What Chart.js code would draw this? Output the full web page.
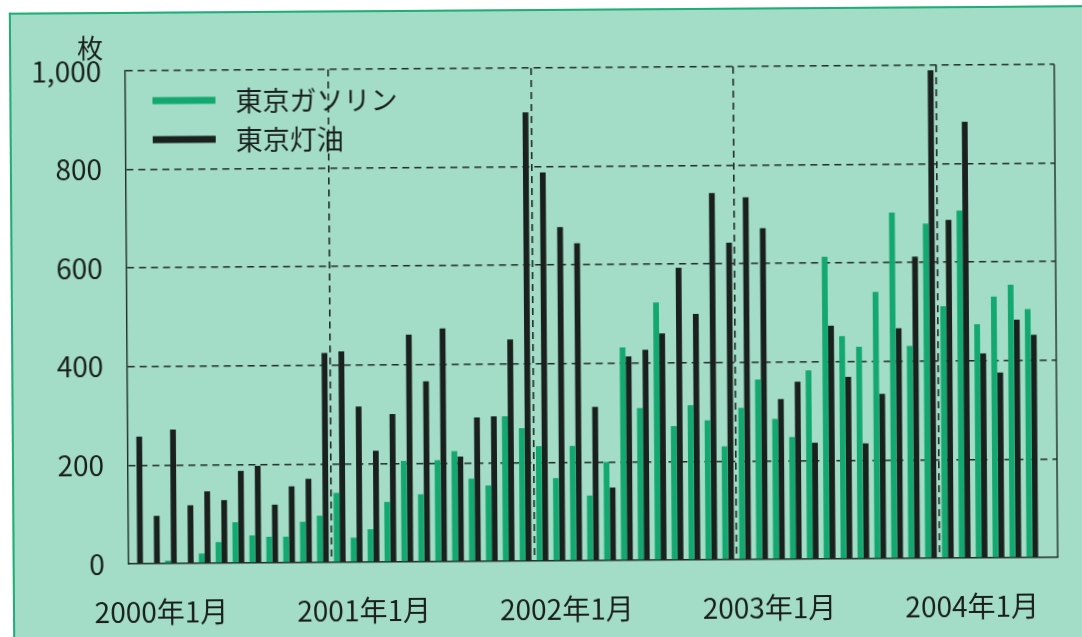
<!DOCTYPE html>
<html lang="ja">
<head>
<meta charset="utf-8">
<script src="https://cdn.jsdelivr.net/npm/chart.js@4.4.1/dist/chart.umd.min.js"></script>
<style>
  html, body { margin: 0; padding: 0; background: #fff; width: 1082px; height: 637px; overflow: hidden; }
  #stage { position: absolute; left: 0; top: 0; width: 1082px; height: 637px; transform: rotate(-0.4deg); }
  #panel { position: absolute; left: 11px; top: 9px; right: -30px; bottom: -30px; background: #a3ddc7;
           border-left: 2px solid #1fae78; border-top: 2px solid #1fae78; }
  canvas { position: absolute; left: 0; top: 0; }
</style>
</head>
<body>
<div id="stage">
  <div id="panel"></div>
  <canvas id="canvas" width="1082" height="637"></canvas>
</div>
<script>
// monthly volume, Jan 2000 .. Jul 2004 (last month empty)
const years = [2000, 2001, 2002, 2003, 2004]
const monthsShown = 55
const gasoline = [
    0, 0, 6, 0, 20, 43, 83, 56, 53, 53, 83, 95,
    141, 50, 67, 122, 205, 137, 206, 224, 168, 154, 294, 270,
    233, 168, 233, 132, 200, 432, 309, 523, 272, 314, 283, 230,
    308, 365, 285, 248, 383, 613, 452, 430, 541, 702, 431, 679,
    511, 705, 474, 530, 554, 504, null
]
const kerosene = [
    258, 97, 272, 118, 146, 128, 187, 197, 118, 155, 170, 425,
    428, 316, 226, 300, 461, 366, 473, 213, 292, 294, 450, 910,
    788, 677, 644, 312, 148, 414, 427, 460, 593, 499, 744, 643,
    735, 672, 325, 360, 236, 473, 369, 234, 334, 467, 612, 990,
    686, 885, 415, 376, 483, 452, null
]
const seriesNames = ['東京ガソリン', '東京灯油']
const seriesColors = ['#13a870', '#19201e']
const yTicks = [0, 200, 400, 600, 800, 1000]
const unitLabel = '枚'

const labels = []
years.forEach(y => {
    for (let m = 1; m <= 12; m++) {
        if (labels.length < monthsShown) labels.push(`${y}年${m}月`)
    }
})

const textColor = '#1a1f1d'
const lineColor = '#222b28'
const tickFont = { family: "'Noto Sans CJK JP', sans-serif", size: 28 }

const decor = {
    id: 'decor',
    afterDraw(chart) {
        const { ctx, chartArea: a } = chart
        ctx.save()
        // right frame line
        ctx.strokeStyle = lineColor
        ctx.lineWidth = 1.4
        ctx.beginPath()
        ctx.moveTo(a.right, a.top)
        ctx.lineTo(a.right, a.bottom)
        ctx.stroke()
        // unit label
        ctx.fillStyle = textColor
        ctx.font = "26px 'Noto Sans CJK JP'"
        ctx.textAlign = 'right'
        ctx.textBaseline = 'middle'
        ctx.fillText(unitLabel, a.left - 22, a.top - 23)
        // legend
        chart.data.datasets.forEach((ds, i) => {
            const y = a.top + 30 + i * 39
            ctx.fillStyle = ds.backgroundColor
            ctx.fillRect(a.left + 27, y - 3.5, 63, 7)
            ctx.fillStyle = textColor
            ctx.textAlign = 'left'
            ctx.font = "27px 'Noto Sans CJK JP'"
            ctx.fillText(ds.label, a.left + 110, y + 1)
        })
        ctx.restore()
    }
}

const ctx = document.getElementById('canvas').getContext('2d')

const chart = new Chart(ctx, {
    type: 'bar',
    data: {
        labels: labels,
        datasets: [
            { label: seriesNames[0], data: gasoline, backgroundColor: seriesColors[0], borderWidth: 0 },
            { label: seriesNames[1], data: kerosene, backgroundColor: seriesColors[1], borderWidth: 0 }
        ]
    },
    options: {
        responsive: false,
        animation: false,
        devicePixelRatio: 1,
        categoryPercentage: 0.7,
        barPercentage: 0.98,
        layout: { padding: { left: 0, top: 68, right: 26, bottom: 0 } },
        plugins: { legend: { display: false }, tooltip: { enabled: false } },
        scales: {
            x: {
                afterFit: scale => { scale.height = 76 },
                grid: {
                    offset: true,
                    drawTicks: false,
                    lineWidth: 1.6,
                    color: c => (c.index > 0 && c.index < monthsShown && c.index % 12 === 0) ? lineColor : 'transparent'
                },
                border: { display: true, color: lineColor, width: 1.4, dash: [7, 5] },
                ticks: {
                    autoSkip: false,
                    maxRotation: 0,
                    padding: 32,
                    labelOffset: 24,
                    color: textColor,
                    font: tickFont,
                    callback: (v, i) => i % 12 === 0 ? labels[i] : ''
                }
            },
            y: {
                min: 0,
                max: 1000,
                afterFit: scale => { scale.width = 127 },
                afterBuildTicks: scale => { scale.ticks = yTicks.map(v => ({ value: v })) },
                grid: {
                    drawTicks: false,
                    lineWidth: 1.6,
                    color: c => c.tick && c.tick.value === 0 ? 'transparent' : lineColor
                },
                border: { display: true, color: lineColor, width: 1.4, dash: [7, 5] },
                ticks: {
                    padding: 24,
                    color: textColor,
                    font: tickFont,
                    callback: v => v.toLocaleString('en-US')
                }
            }
        }
    },
    plugins: [decor]
})
</script>
</body>
</html>
